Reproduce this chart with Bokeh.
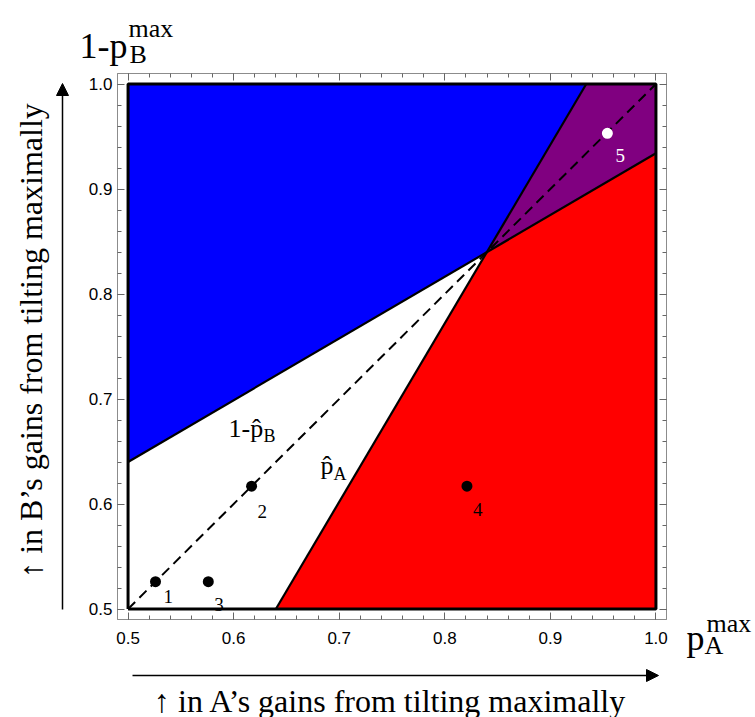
import math
from bokeh.plotting import figure
from bokeh.models import (Label, Arrow, NormalHead, FixedTicker, NumeralTickFormatter,
                          LinearAxis, CustomJSTickFormatter, Range1d)
from bokeh.layouts import column, row
from bokeh.embed import file_html
from bokeh.resources import INLINE

# ---------------- data ----------------
cross = 0.84
line_b_x = [0.5, 1.0]          # 1 - p̂_B boundary
line_b_y = [0.64, 0.934]
line_a_x = [0.64, 0.934]       # p̂_A boundary
line_a_y = [0.5, 1.0]
diag_x = [0.5, 1.0]
diag_y = [0.5, 1.0]
box_x = [0.5, 1.0, 1.0, 0.5, 0.5]
box_y = [0.5, 0.5, 1.0, 1.0, 0.5]
blue_x = [0.5, cross, 0.934, 0.5]
blue_y = [0.64, cross, 1.0, 1.0]
red_x = [0.64, cross, 1.0, 1.0]
red_y = [0.5, cross, 0.934, 0.5]
purple_x = [cross, 0.934, 1.0, 1.0]
purple_y = [cross, 1.0, 1.0, 0.934]
pt_x = [0.526, 0.617, 0.576, 0.821, 0.954]
pt_y = [0.526, 0.617, 0.526, 0.617, 0.953]
pt_labels = ["1", "2", "3", "4", "5"]
tick_values = [0.5, 0.6, 0.7, 0.8, 0.9, 1.0]
minor_values = [0.5 + 0.02 * i for i in range(26)]

# ---------------- page geometry (pixels) ----------------
PW, PH = 755, 717
TOP_H, BOT_H = 68, 55
LEFT_W = 72
MID_H = PH - TOP_H - BOT_H
FL, FT, FR, FB = 117, 73, 666, 619    # frame edges on the page
MAIN_L, MAIN_R = LEFT_W, 674
MAIN_W = MAIN_R - MAIN_L
RIGHT_W = PW - MAIN_R
X0, X1, Y0, Y1 = 0.49, 1.01, 0.49, 1.01
SX = (FR - FL) / (X1 - X0)
SY = (FB - FT) / (Y1 - Y0)

SERIF = "Liberation Serif"


def strip(w, h):
    f = figure(width=w, height=h, x_range=Range1d(0, w), y_range=Range1d(h, 0),
               output_backend="svg", toolbar_location=None, tools="",
               min_border=0, min_border_left=0, min_border_right=0,
               min_border_top=0, min_border_bottom=0,
               x_axis_location=None, y_axis_location=None)
    f.grid.visible = False
    f.outline_line_color = None
    f.background_fill_color = "white"
    f.border_fill_color = "white"
    return f


def add_text(f, x, y, text, size, align="left", baseline="alphabetic", angle=0.0, color="black"):
    f.add_layout(Label(x=x, y=y, text=text, text_font=SERIF, text_font_size=size,
                       text_color=color, text_align=align, text_baseline=baseline, angle=angle))


# ---------------- main plot ----------------
p = figure(width=MAIN_W, height=MID_H, x_range=(X0, X1), y_range=(Y0, Y1),
           output_backend="svg", toolbar_location=None, tools="",
           min_border_left=FL - MAIN_L, min_border_right=MAIN_R - FR,
           min_border_top=FT - TOP_H, min_border_bottom=TOP_H + MID_H - FB,
           x_axis_location=None, y_axis_location=None)
p.grid.visible = False
p.outline_line_color = "#8c8c8c"
p.background_fill_color = "white"
p.border_fill_color = "white"

ticker = FixedTicker(ticks=tick_values, minor_ticks=minor_values)


def make_axis(labels):
    ax = LinearAxis(ticker=ticker)
    ax.axis_line_color = "#8c8c8c"
    ax.major_tick_line_color = "#666666"
    ax.minor_tick_line_color = "#666666"
    ax.major_tick_in = 7
    ax.major_tick_out = 0
    ax.minor_tick_in = 4
    ax.minor_tick_out = 0
    if labels:
        ax.formatter = NumeralTickFormatter(format="0.0")
        ax.major_label_text_font = "Liberation Sans"
        ax.major_label_text_font_size = "17px"
        ax.major_label_text_color = "black"
    else:
        ax.formatter = CustomJSTickFormatter(code="return ''")
        ax.major_label_text_font_size = "1px"
        ax.major_label_standoff = 0
    return ax


ax_b = make_axis(True)
ax_b.major_label_standoff = 12
ax_l = make_axis(True)
ax_l.major_label_standoff = 5
p.add_layout(ax_b, "below")
p.add_layout(ax_l, "left")
p.add_layout(make_axis(False), "above")
p.add_layout(make_axis(False), "right")

p.patches([blue_x, red_x, purple_x], [blue_y, red_y, purple_y],
          fill_color=["#0000ff", "#ff0000", "#800080"], line_color=None)
p.line(line_b_x, line_b_y, line_color="black", line_width=2.2)
p.line(line_a_x, line_a_y, line_color="black", line_width=2.2)
p.line(diag_x, diag_y, line_color="black", line_width=2, line_dash="10 6")
p.line(box_x, box_y, line_color="black", line_width=3)

colors = ["black", "black", "black", "black", "white"]
p.scatter(pt_x, pt_y, size=11, fill_color=colors, line_color=None)

offs = [(8, 15), (6, 25), (6, 23), (6, 23), (8, 22)]
for i, lab in enumerate(pt_labels):
    dx, dy = offs[i]
    p.add_layout(Label(x=pt_x[i] + dx / SX, y=pt_y[i] - dy / SY, text=lab,
                       text_font=SERIF, text_font_size="19px",
                       text_color=colors[i], text_align="left", text_baseline="alphabetic"))


def X(px):
    return X0 + (px - FL) / SX


def Y(py):
    return Y0 + (FB - py) / SY


add_text(p, X(228), Y(428), "1-p\u0302", "26px")
add_text(p, X(263), Y(435), "B", "18px")
add_text(p, X(320), Y(465), "p\u0302", "26px")
add_text(p, X(333), Y(473), "A", "18px")

# ---------------- top strip ----------------
top = strip(PW, TOP_H)
add_text(top, 79, 45, "1-p", "36px")
add_text(top, 129, 54, "B", "26px")
add_text(top, 128, 28, "max", "26px")

# ---------------- left strip ----------------
left = strip(LEFT_W, MID_H)
left.add_layout(Arrow(end=NormalHead(size=12, fill_color="black", line_color="black"),
                      x_start=62, y_start=609 - TOP_H, x_end=62, y_end=83 - TOP_H,
                      line_color="black", line_width=1.5))
add_text(left, 30, 340 - TOP_H, "\u2191 in B\u2019s gains from tilting maximally", "32px",
         align="center", baseline="middle", angle=math.pi / 2)

# ---------------- right strip ----------------
right = strip(RIGHT_W, MID_H)
add_text(right, 686 - MAIN_R, 637 - TOP_H, "p", "36px")
add_text(right, 704 - MAIN_R, 645 - TOP_H, "A", "26px")
add_text(right, 706 - MAIN_R, 623 - TOP_H, "max", "26px")

# ---------------- bottom strip ----------------
bottom = strip(PW, BOT_H)
y0b = TOP_H + MID_H
bottom.add_layout(Arrow(end=NormalHead(size=12, fill_color="black", line_color="black"),
                        x_start=132, y_start=675 - y0b, x_end=658, y_end=675 - y0b,
                        line_color="black", line_width=1.5))
add_text(bottom, 390, 700 - y0b, "\u2191 in A\u2019s gains from tilting maximally", "32px",
         align="center")

layout = column(top, row(column(left), column(p), column(right)), bottom)
open("out.html", "w").write(file_html(layout, INLINE))
